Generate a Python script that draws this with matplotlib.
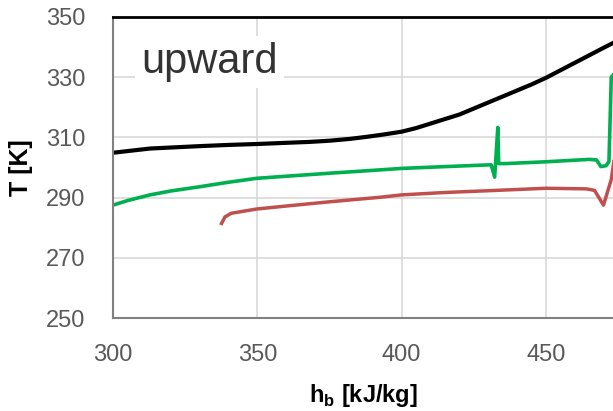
import matplotlib.pyplot as plt

# curves (h_b in kJ/kg, T in K)
h_black = [300, 312.8, 330, 340, 349.7, 360, 368, 375, 382, 388, 394, 400, 405, 411,
           420, 430, 440, 445, 450, 455, 460, 465, 470, 473.5]
T_black = [304.9, 306.3, 307.1, 307.5, 307.8, 308.2, 308.5, 308.9, 309.5, 310.2, 311.0, 311.9,
           313.1, 314.9, 317.6, 321.6, 325.6, 327.6, 329.8, 332.3, 334.8, 337.3, 339.8, 341.5]

h_green = [300, 305, 312.8, 320, 330, 340, 349.7, 360, 375, 392.4, 400, 415, 431.0, 432.2,
           433.3, 433.6, 436, 450, 465, 467.5, 469.0, 470.8, 471.8, 472.6, 473.5]
T_green = [287.5, 289.0, 290.9, 292.2, 293.6, 295.1, 296.4, 297.1, 298.1, 299.2, 299.7, 300.3,
           300.9, 296.8, 313.3, 301.3, 301.3, 301.9, 302.7, 302.5, 300.3, 300.6, 302.0, 330.0, 331.0]

h_red = [337.6, 338.8, 341.0, 349.7, 360, 375, 392.4, 400, 415, 430.4, 450, 464, 466.8,
         469.9, 472.6, 473.5]
T_red = [281.4, 283.6, 284.8, 286.2, 287.2, 288.6, 290.1, 290.9, 291.7, 292.3, 293.1, 292.9,
         292.4, 287.5, 296.0, 302.0]

xticks = [300, 350, 400, 450]
yticks = [250, 270, 290, 310, 330, 350]

fig = plt.figure(figsize=(6.13, 4.11), dpi=100)
ax = fig.add_axes([113 / 613, 93 / 411, 500 / 613, 301 / 411])

ax.plot(h_black, T_black, color='#000000', lw=3.0, solid_capstyle='round',
        solid_joinstyle='round')
ax.plot(h_green, T_green, color='#00b050', lw=2.6, solid_joinstyle='round')
ax.plot(h_red, T_red, color='#c0504d', lw=2.5, solid_joinstyle='round')

ax.set_xlim(300, 473.2)
ax.set_ylim(250, 350)
ax.set_xticks(xticks)
ax.set_yticks(yticks)
ax.grid(True, color='#d9d9d9', lw=1.2)
ax.set_axisbelow(True)

ax.tick_params(length=0, labelsize=17, labelcolor='#595959')
ax.tick_params(axis='y', pad=20)
ax.tick_params(axis='x', pad=19)
for lab in ax.get_xticklabels() + ax.get_yticklabels():
    lab.set_family('Liberation Sans')

ax.spines['right'].set_visible(False)
ax.spines['top'].set_color('#000000')
ax.spines['top'].set_linewidth(2.0)
ax.spines['left'].set_color('#808080')
ax.spines['left'].set_linewidth(1.5)
ax.spines['bottom'].set_color('#808080')
ax.spines['bottom'].set_linewidth(1.5)

ax.set_xlabel(r'h$_\mathregular{b}$ [kJ/kg]', fontsize=17, fontweight='bold',
              family='Liberation Sans', labelpad=11)
ax.set_ylabel('T [K]', fontsize=18, fontweight='bold', family='Liberation Sans')
ax.yaxis.set_label_coords(-0.16, 0.5)

ax.text(309.9, 331.4, 'upward', fontsize=30, color='#333333', family='Liberation Sans',
        ha='left', va='baseline',
        bbox=dict(boxstyle='square,pad=0.15', fc='white', ec='none'))

fig.savefig('out.png', dpi=100)
